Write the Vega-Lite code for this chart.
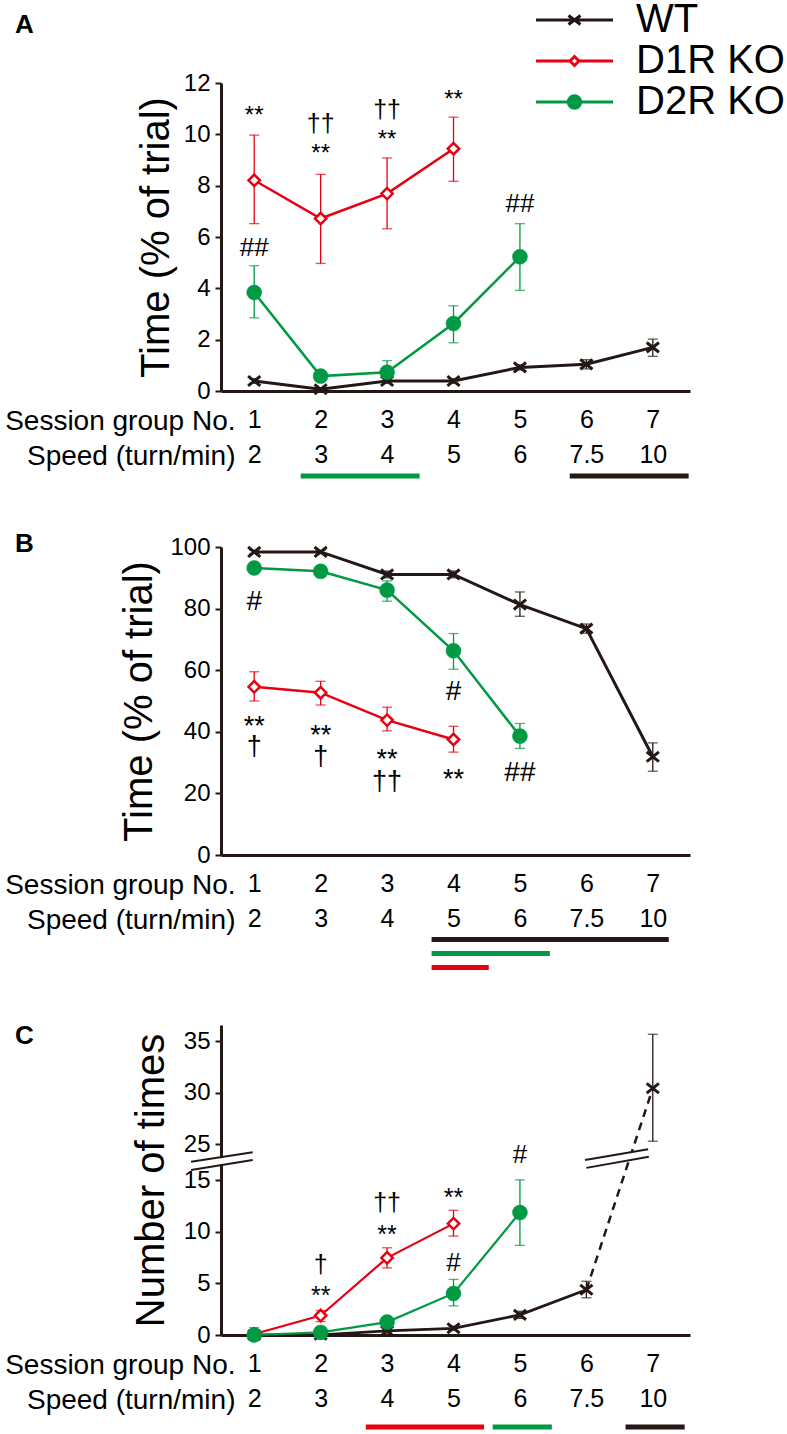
{
  "$schema": "https://vega.github.io/schema/vega-lite/v6.json",
  "padding": {"left": 4, "top": 0, "right": 0, "bottom": 0},
  "bounds": "flush",
  "spacing": 156,
  "config": {
    "font": "Liberation Sans",
    "view": {"stroke": null},
    "axis": {"grid": false, "domainColor": "#231815", "domainWidth": 3, "tickColor": "#231815", "labelColor": "#000", "titleColor": "#000", "labelFont": "Liberation Sans", "titleFont": "Liberation Sans", "titleFontWeight": "normal"},
    "axisY": {"tickSize": 6, "tickWidth": 2, "labelFontSize": 24, "labelPadding": 5, "titleFontSize": 40},
    "title": {"fontSize": 26, "fontWeight": "bold", "anchor": "start", "frame": "group", "offset": 0, "baseline": "alphabetic", "color": "#000"}
  },
  "resolve": {"scale": {"size": "independent"}},
  "datasets": {
    "ptsA": [
      {"series": "WT", "session": 1, "value": 0.39, "lo": 0.30, "hi": 0.48},
      {"series": "WT", "session": 2, "value": 0.07, "lo": 0.02, "hi": 0.12},
      {"series": "WT", "session": 3, "value": 0.39, "lo": 0.30, "hi": 0.48},
      {"series": "WT", "session": 4, "value": 0.39, "lo": 0.30, "hi": 0.48},
      {"series": "WT", "session": 5, "value": 0.92, "lo": 0.82, "hi": 1.02},
      {"series": "WT", "session": 6, "value": 1.04, "lo": 0.86, "hi": 1.22},
      {"series": "WT", "session": 7, "value": 1.70, "lo": 1.35, "hi": 2.02},
      {"series": "D1R KO", "session": 1, "value": 8.21, "lo": 6.52, "hi": 9.97},
      {"series": "D1R KO", "session": 2, "value": 6.72, "lo": 4.97, "hi": 8.44},
      {"series": "D1R KO", "session": 3, "value": 7.69, "lo": 6.32, "hi": 9.08},
      {"series": "D1R KO", "session": 4, "value": 9.44, "lo": 8.17, "hi": 10.67},
      {"series": "D2R KO", "session": 1, "value": 3.84, "lo": 2.85, "hi": 4.88},
      {"series": "D2R KO", "session": 2, "value": 0.58, "lo": 0.43, "hi": 0.73},
      {"series": "D2R KO", "session": 3, "value": 0.73, "lo": 0.30, "hi": 1.18},
      {"series": "D2R KO", "session": 4, "value": 2.63, "lo": 1.88, "hi": 3.32},
      {"series": "D2R KO", "session": 5, "value": 5.23, "lo": 3.92, "hi": 6.52}
    ],
    "ptsB": [
      {"series": "WT", "session": 1, "value": 98.4, "lo": 97.9, "hi": 98.9},
      {"series": "WT", "session": 2, "value": 98.4, "lo": 97.9, "hi": 98.9},
      {"series": "WT", "session": 3, "value": 91.1, "lo": 90.0, "hi": 92.2},
      {"series": "WT", "session": 4, "value": 91.1, "lo": 90.0, "hi": 92.2},
      {"series": "WT", "session": 5, "value": 81.3, "lo": 77.5, "hi": 85.4},
      {"series": "WT", "session": 6, "value": 73.5, "lo": 72.0, "hi": 75.0},
      {"series": "WT", "session": 7, "value": 31.9, "lo": 27.2, "hi": 36.4},
      {"series": "D1R KO", "session": 1, "value": 54.6, "lo": 50.0, "hi": 59.5},
      {"series": "D1R KO", "session": 2, "value": 52.7, "lo": 48.7, "hi": 56.4},
      {"series": "D1R KO", "session": 3, "value": 43.8, "lo": 40.3, "hi": 48.0},
      {"series": "D1R KO", "session": 4, "value": 37.5, "lo": 33.4, "hi": 41.8},
      {"series": "D2R KO", "session": 1, "value": 93.2, "lo": 92.5, "hi": 93.9},
      {"series": "D2R KO", "session": 2, "value": 92.1, "lo": 91.3, "hi": 92.9},
      {"series": "D2R KO", "session": 3, "value": 86.0, "lo": 82.4, "hi": 89.0},
      {"series": "D2R KO", "session": 4, "value": 66.3, "lo": 60.3, "hi": 71.9},
      {"series": "D2R KO", "session": 5, "value": 38.6, "lo": 34.6, "hi": 42.7}
    ],
    "ptsC": [
      {"series": "WT", "session": 1, "value": 0.0, "lo": 0.0, "hi": 0.0},
      {"series": "WT", "session": 2, "value": 0.02, "lo": 0.0, "hi": 0.05},
      {"series": "WT", "session": 3, "value": 0.39, "lo": 0.2, "hi": 0.58},
      {"series": "WT", "session": 4, "value": 0.65, "lo": 0.45, "hi": 0.85},
      {"series": "WT", "session": 5, "value": 1.95, "lo": 1.6, "hi": 2.3},
      {"series": "WT", "session": 6, "value": 4.38, "lo": 3.6, "hi": 5.2},
      {"series": "WT", "session": 7, "value": 30.45, "lo": 25.3, "hi": 35.7},
      {"series": "D1R KO", "session": 1, "value": 0.1, "lo": 0.0, "hi": 0.7},
      {"series": "D1R KO", "session": 2, "value": 1.88, "lo": 1.3, "hi": 2.37},
      {"series": "D1R KO", "session": 3, "value": 7.47, "lo": 6.49, "hi": 8.44},
      {"series": "D1R KO", "session": 4, "value": 10.78, "lo": 9.57, "hi": 12.07},
      {"series": "D2R KO", "session": 1, "value": 0.0, "lo": 0.0, "hi": 0.0},
      {"series": "D2R KO", "session": 2, "value": 0.25, "lo": 0.1, "hi": 0.4},
      {"series": "D2R KO", "session": 3, "value": 1.25, "lo": 1.0, "hi": 1.5},
      {"series": "D2R KO", "session": 4, "value": 4.02, "lo": 2.82, "hi": 5.38},
      {"series": "D2R KO", "session": 5, "value": 11.85, "lo": 8.67, "hi": 15.04}
    ],
    "annA": [
      {"session": 1, "label": "**", "y": 10.70},
      {"session": 2, "label": "††", "y": 10.39},
      {"session": 2, "label": "**", "y": 9.25},
      {"session": 3, "label": "††", "y": 10.93},
      {"session": 3, "label": "**", "y": 9.76},
      {"session": 4, "label": "**", "y": 11.35},
      {"session": 1, "label": "##", "y": 5.59},
      {"session": 5, "label": "##", "y": 7.30}
    ],
    "annB": [
      {"session": 1, "label": "#", "y": 82.2},
      {"session": 1, "label": "**", "y": 41.5},
      {"session": 1, "label": "†", "y": 35.1},
      {"session": 2, "label": "**", "y": 38.5},
      {"session": 2, "label": "†", "y": 31.9},
      {"session": 3, "label": "**", "y": 30.7},
      {"session": 3, "label": "††", "y": 23.8},
      {"session": 4, "label": "#", "y": 53.0},
      {"session": 4, "label": "**", "y": 24.4},
      {"session": 5, "label": "##", "y": 26.7}
    ],
    "annC": [
      {"session": 2, "label": "†", "y": 6.8},
      {"session": 2, "label": "**", "y": 3.8},
      {"session": 3, "label": "††", "y": 12.8},
      {"session": 3, "label": "**", "y": 9.7},
      {"session": 4, "label": "**", "y": 13.3},
      {"session": 4, "label": "#", "y": 7.0},
      {"session": 5, "label": "#", "y": 22.0}
    ],
    "barsA": [
      {"series": "D2R KO", "start": 1.70, "end": 3.49, "y": -3.31},
      {"series": "WT", "start": 5.75, "end": 7.54, "y": -3.31}
    ],
    "barsB": [
      {"series": "WT", "start": 3.67, "end": 7.24, "y": -27.4},
      {"series": "D2R KO", "start": 3.67, "end": 5.45, "y": -32.0},
      {"series": "D1R KO", "start": 3.67, "end": 4.53, "y": -36.5}
    ],
    "barsC": [
      {"series": "D1R KO", "start": 2.68, "end": 4.46, "y": -8.9},
      {"series": "D2R KO", "start": 4.59, "end": 5.48, "y": -8.9},
      {"series": "WT", "start": 6.59, "end": 7.48, "y": -8.9}
    ],
    "brkC": [
      {"kind": "gap", "x1": 0.049, "y1": 18.95, "x2": 0.977, "y2": 21.68},
      {"kind": "gap", "x1": 5.99, "y1": 19.5, "x2": 6.935, "y2": 22.55},
      {"kind": "slash", "x1": 0.049, "y1": 20.1, "x2": 0.977, "y2": 22.76},
      {"kind": "slash", "x1": 0.049, "y1": 17.8, "x2": 0.977, "y2": 20.6},
      {"kind": "slash", "x1": 5.98, "y1": 20.6, "x2": 6.93, "y2": 23.6},
      {"kind": "slash", "x1": 6.0, "y1": 18.4, "x2": 6.94, "y2": 21.5}
    ]
  },
  "vconcat": [
    {
      "width": 469,
      "height": 308,
      "title": {"text": "A", "dx": -206, "dy": -29},
      "data": {"name": "ptsA"},
      "encoding": {
        "x": {"field": "session", "type": "quantitative", "scale": {"domain": [0.5, 7.56], "nice": false, "zero": false},
          "axis": {"values": [1, 2, 3, 4, 5, 6, 7], "labelExpr": "[datum.label, ['2','3','4','5','6','7.5','10'][datum.value-1]]", "ticks": false, "tickSize": 0, "labelFontSize": 25, "labelLineHeight": 35, "labelPadding": 16, "labelOverlap": false, "labelBound": false, "labelFlush": false, "labelBaseline": "top", "title": ["Session group No.", "Speed (turn/min)"], "titleFontSize": 28, "titleLineHeight": 35, "titleAlign": "right", "titleX": 14, "titleY": 16, "titleBaseline": "top"}},
        "y": {"field": "value", "type": "quantitative", "scale": {"domain": [0, 12], "nice": false, "zero": false},
          "axis": {"title": "Time (% of trial)", "values": [0, 2, 4, 6, 8, 10, 12], "titlePadding": 7}}
      },
      "layer": [
        {"mark": {"type": "rule", "strokeWidth": 1.3}, "encoding": {"y": {"field": "lo", "type": "quantitative"}, "y2": {"field": "hi"}, "color": {"field": "series", "type": "nominal", "scale": {"domain": ["D1R KO", "D2R KO", "WT"], "range": ["#e60012", "#009944", "#231815"]}, "legend": null}}},
        {"mark": {"type": "tick", "orient": "horizontal", "size": 10, "thickness": 1.3}, "encoding": {"y": {"field": "lo", "type": "quantitative"}, "color": {"field": "series", "type": "nominal", "legend": null}}},
        {"mark": {"type": "tick", "orient": "horizontal", "size": 10, "thickness": 1.3}, "encoding": {"y": {"field": "hi", "type": "quantitative"}, "color": {"field": "series", "type": "nominal", "legend": null}}},
        {"transform": [{"filter": "datum.series == 'WT'"}], "mark": {"type": "line", "strokeWidth": 3}, "encoding": {"color": {"field": "series", "type": "nominal", "legend": null}}},
        {"transform": [{"filter": "datum.series != 'WT'"}], "mark": {"type": "line", "strokeWidth": 2.5}, "encoding": {"color": {"field": "series", "type": "nominal", "legend": null}}},
        {"transform": [{"filter": "datum.series == 'WT'"}], "mark": {"type": "point", "shape": "M-1,-0.8L1,0.8M-1,0.8L1,-0.8", "size": 150, "stroke": "#231815", "strokeWidth": 3, "filled": false, "opacity": 1}},
        {"transform": [{"filter": "datum.series == 'D1R KO'"}], "mark": {"type": "point", "shape": "diamond", "size": 130, "fill": "#ffffff", "stroke": "#e60012", "strokeWidth": 2.5, "filled": true, "opacity": 1}},
        {"transform": [{"filter": "datum.series == 'D2R KO'"}], "mark": {"type": "point", "shape": "circle", "size": 225, "fill": "#009944", "stroke": "#009944", "strokeWidth": 0.5, "filled": true, "opacity": 1}},
        {"data": {"name": "annA"}, "mark": {"type": "text", "baseline": "middle", "align": "center", "color": "#000"},
          "encoding": {"y": {"field": "y", "type": "quantitative"}, "text": {"field": "label"}, "size": {"field": "label", "type": "nominal", "scale": {"type": "ordinal", "domain": ["**", "†", "††", "#", "##"], "range": [24, 25, 25, 26, 26]}, "legend": null}}},
        {"data": {"name": "barsA"}, "mark": {"type": "rule", "strokeWidth": 5, "clip": false}, "encoding": {"x": {"field": "start", "type": "quantitative"}, "x2": {"field": "end"}, "y": {"field": "y", "type": "quantitative"}, "y2": {"field": "y"}, "color": {"field": "series", "type": "nominal", "legend": null}}},
        {"mark": {"type": "point", "filled": true, "opacity": 0},
          "encoding": {
            "shape": {"field": "series", "type": "nominal", "scale": {"domain": ["WT", "D1R KO", "D2R KO"], "range": ["M-3.85,0H3.85M-0.6,-0.45L0.6,0.45M-0.6,0.45L0.6,-0.45", "M-3.85,0H-0.45M0.45,0H3.85M0,-0.45L0.45,0L0,0.45L-0.45,0Z", "M-3.85,0H3.85M0.62,0A0.62,0.62,0,1,1,-0.62,0A0.62,0.62,0,1,1,0.62,0Z"]},
              "legend": {"title": null, "orient": "none", "legendX": 333.5, "legendY": -83, "direction": "vertical", "symbolSize": 400, "symbolStrokeWidth": 3, "symbolOpacity": 1, "labelFontSize": 40, "labelFont": "Liberation Sans", "labelColor": "#000", "labelOffset": 41.5, "rowPadding": 1, "padding": 0, "labelLimit": 300, "labelBaseline": "middle"}},
            "stroke": {"field": "series", "type": "nominal", "scale": {"domain": ["WT", "D1R KO", "D2R KO"], "range": ["#231815", "#e60012", "#009944"]},
              "legend": {"title": null, "orient": "none", "legendX": 333.5, "legendY": -83, "direction": "vertical", "symbolSize": 400, "symbolStrokeWidth": 3, "symbolOpacity": 1, "labelFontSize": 40, "labelFont": "Liberation Sans", "labelColor": "#000", "labelOffset": 41.5, "rowPadding": 1, "padding": 0, "labelLimit": 300, "labelBaseline": "middle"}},
            "fill": {"field": "series", "type": "nominal", "scale": {"domain": ["WT", "D1R KO", "D2R KO"], "range": ["#231815", "#ffffff", "#009944"]},
              "legend": {"title": null, "orient": "none", "legendX": 333.5, "legendY": -83, "direction": "vertical", "symbolSize": 400, "symbolStrokeWidth": 3, "symbolOpacity": 1, "labelFontSize": 40, "labelFont": "Liberation Sans", "labelColor": "#000", "labelOffset": 41.5, "rowPadding": 1, "padding": 0, "labelLimit": 300, "labelBaseline": "middle"}}
          }}
      ]
    },
    {
      "width": 469,
      "height": 308,
      "title": {"text": "B", "dx": -206, "dy": 26},
      "data": {"name": "ptsB"},
      "encoding": {
        "x": {"field": "session", "type": "quantitative", "scale": {"domain": [0.5, 7.56], "nice": false, "zero": false},
          "axis": {"values": [1, 2, 3, 4, 5, 6, 7], "labelExpr": "[datum.label, ['2','3','4','5','6','7.5','10'][datum.value-1]]", "ticks": false, "tickSize": 0, "labelFontSize": 25, "labelLineHeight": 35, "labelPadding": 16, "labelOverlap": false, "labelBound": false, "labelFlush": false, "labelBaseline": "top", "title": ["Session group No.", "Speed (turn/min)"], "titleFontSize": 28, "titleLineHeight": 35, "titleAlign": "right", "titleX": 14, "titleY": 16, "titleBaseline": "top"}},
        "y": {"field": "value", "type": "quantitative", "scale": {"domain": [0, 100], "nice": false, "zero": false},
          "axis": {"title": "Time (% of trial)", "values": [0, 20, 40, 60, 80, 100], "titlePadding": 10}}
      },
      "layer": [
        {"mark": {"type": "rule", "strokeWidth": 1.3}, "encoding": {"y": {"field": "lo", "type": "quantitative"}, "y2": {"field": "hi"}, "color": {"field": "series", "type": "nominal", "scale": {"domain": ["D1R KO", "D2R KO", "WT"], "range": ["#e60012", "#009944", "#231815"]}, "legend": null}}},
        {"mark": {"type": "tick", "orient": "horizontal", "size": 10, "thickness": 1.3}, "encoding": {"y": {"field": "lo", "type": "quantitative"}, "color": {"field": "series", "type": "nominal", "legend": null}}},
        {"mark": {"type": "tick", "orient": "horizontal", "size": 10, "thickness": 1.3}, "encoding": {"y": {"field": "hi", "type": "quantitative"}, "color": {"field": "series", "type": "nominal", "legend": null}}},
        {"transform": [{"filter": "datum.series == 'WT'"}], "mark": {"type": "line", "strokeWidth": 3}, "encoding": {"color": {"field": "series", "type": "nominal", "legend": null}}},
        {"transform": [{"filter": "datum.series != 'WT'"}], "mark": {"type": "line", "strokeWidth": 2.5}, "encoding": {"color": {"field": "series", "type": "nominal", "legend": null}}},
        {"transform": [{"filter": "datum.series == 'WT'"}], "mark": {"type": "point", "shape": "M-1,-0.8L1,0.8M-1,0.8L1,-0.8", "size": 150, "stroke": "#231815", "strokeWidth": 3, "filled": false, "opacity": 1}},
        {"transform": [{"filter": "datum.series == 'D1R KO'"}], "mark": {"type": "point", "shape": "diamond", "size": 130, "fill": "#ffffff", "stroke": "#e60012", "strokeWidth": 2.5, "filled": true, "opacity": 1}},
        {"transform": [{"filter": "datum.series == 'D2R KO'"}], "mark": {"type": "point", "shape": "circle", "size": 225, "fill": "#009944", "stroke": "#009944", "strokeWidth": 0.5, "filled": true, "opacity": 1}},
        {"data": {"name": "annB"}, "mark": {"type": "text", "baseline": "middle", "align": "center", "color": "#000"},
          "encoding": {"y": {"field": "y", "type": "quantitative"}, "text": {"field": "label"}, "size": {"field": "label", "type": "nominal", "scale": {"type": "ordinal", "domain": ["**", "†", "††", "#", "##"], "range": [27, 27, 27, 28, 28]}, "legend": null}}},
        {"data": {"name": "barsB"}, "mark": {"type": "rule", "strokeWidth": 5, "clip": false}, "encoding": {"x": {"field": "start", "type": "quantitative"}, "x2": {"field": "end"}, "y": {"field": "y", "type": "quantitative"}, "y2": {"field": "y"}, "color": {"field": "series", "type": "nominal", "legend": null}}}
      ]
    },
    {
      "width": 469,
      "height": 324,
      "title": {"text": "C", "dx": -206, "dy": 42},
      "data": {"name": "ptsC"},
      "encoding": {
        "x": {"field": "session", "type": "quantitative", "scale": {"domain": [0.5, 7.56], "nice": false, "zero": false},
          "axis": {"values": [1, 2, 3, 4, 5, 6, 7], "labelExpr": "[datum.label, ['2','3','4','5','6','7.5','10'][datum.value-1]]", "ticks": false, "tickSize": 0, "labelFontSize": 25, "labelLineHeight": 35, "labelPadding": 16, "labelOverlap": false, "labelBound": false, "labelFlush": false, "labelBaseline": "top", "title": ["Session group No.", "Speed (turn/min)"], "titleFontSize": 28, "titleLineHeight": 35, "titleAlign": "right", "titleX": 14, "titleY": 16, "titleBaseline": "top"}},
        "y": {"field": "value", "type": "quantitative", "scale": {"domain": [0, 15, 25, 36.6], "range": [324, 169, 133.3, 14], "nice": false, "zero": false},
          "axis": {"title": "Number of times", "values": [0, 5, 10, 15, 25, 30, 35], "titlePadding": 12}}
      },
      "layer": [
        {"mark": {"type": "rule", "strokeWidth": 1.3}, "encoding": {"y": {"field": "lo", "type": "quantitative"}, "y2": {"field": "hi"}, "color": {"field": "series", "type": "nominal", "scale": {"domain": ["D1R KO", "D2R KO", "WT"], "range": ["#e60012", "#009944", "#231815"]}, "legend": null}}},
        {"mark": {"type": "tick", "orient": "horizontal", "size": 10, "thickness": 1.3}, "encoding": {"y": {"field": "lo", "type": "quantitative"}, "color": {"field": "series", "type": "nominal", "legend": null}}},
        {"mark": {"type": "tick", "orient": "horizontal", "size": 10, "thickness": 1.3}, "encoding": {"y": {"field": "hi", "type": "quantitative"}, "color": {"field": "series", "type": "nominal", "legend": null}}},
        {"transform": [{"filter": "datum.series == 'WT' && datum.session <= 6"}], "mark": {"type": "line", "strokeWidth": 2.8}, "encoding": {"color": {"field": "series", "type": "nominal", "legend": null}}},
        {"transform": [{"filter": "datum.series == 'WT' && datum.session >= 6"}], "mark": {"type": "line", "strokeWidth": 2.5, "strokeDash": [8, 6]}, "encoding": {"color": {"field": "series", "type": "nominal", "legend": null}}},
        {"transform": [{"filter": "datum.series != 'WT'"}], "mark": {"type": "line", "strokeWidth": 2.2}, "encoding": {"color": {"field": "series", "type": "nominal", "legend": null}}},
        {"transform": [{"filter": "datum.series == 'WT'"}], "mark": {"type": "point", "shape": "M-1,-0.8L1,0.8M-1,0.8L1,-0.8", "size": 150, "stroke": "#231815", "strokeWidth": 3, "filled": false, "opacity": 1}},
        {"transform": [{"filter": "datum.series == 'D1R KO'"}], "mark": {"type": "point", "shape": "diamond", "size": 130, "fill": "#ffffff", "stroke": "#e60012", "strokeWidth": 2.5, "filled": true, "opacity": 1}},
        {"transform": [{"filter": "datum.series == 'D2R KO'"}], "mark": {"type": "point", "shape": "circle", "size": 225, "fill": "#009944", "stroke": "#009944", "strokeWidth": 0.5, "filled": true, "opacity": 1}},
        {"data": {"name": "annC"}, "mark": {"type": "text", "baseline": "middle", "align": "center", "color": "#000"},
          "encoding": {"y": {"field": "y", "type": "quantitative"}, "text": {"field": "label"}, "size": {"field": "label", "type": "nominal", "scale": {"type": "ordinal", "domain": ["**", "†", "††", "#", "##"], "range": [25, 25, 25, 26, 26]}, "legend": null}}},
        {"data": {"name": "barsC"}, "mark": {"type": "rule", "strokeWidth": 5, "clip": false}, "encoding": {"x": {"field": "start", "type": "quantitative"}, "x2": {"field": "end"}, "y": {"field": "y", "type": "quantitative"}, "y2": {"field": "y"}, "color": {"field": "series", "type": "nominal", "legend": null}}},
        {"data": {"name": "brkC"}, "transform": [{"filter": "datum.kind == 'gap'"}], "mark": {"type": "rule", "strokeWidth": 6, "color": "#ffffff"}, "encoding": {"x": {"field": "x1", "type": "quantitative"}, "x2": {"field": "x2"}, "y": {"field": "y1", "type": "quantitative"}, "y2": {"field": "y2"}}},
        {"data": {"name": "brkC"}, "transform": [{"filter": "datum.kind == 'slash'"}], "mark": {"type": "rule", "strokeWidth": 2, "color": "#231815"}, "encoding": {"x": {"field": "x1", "type": "quantitative"}, "x2": {"field": "x2"}, "y": {"field": "y1", "type": "quantitative"}, "y2": {"field": "y2"}}}
      ]
    }
  ]
}
